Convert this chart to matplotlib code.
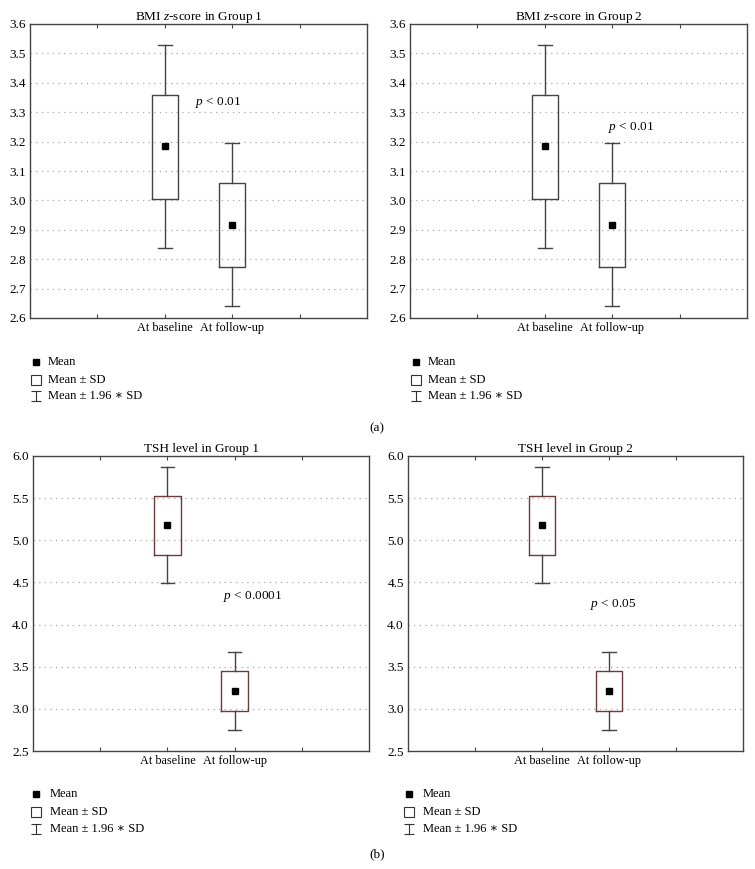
import matplotlib
matplotlib.use('Agg')
import matplotlib.pyplot as plt
from matplotlib.lines import Line2D
from matplotlib.path import Path

plt.rcParams['font.family'] = ['Liberation Serif', 'DejaVu Serif']
plt.rcParams['mathtext.fontset'] = 'custom'
plt.rcParams['mathtext.rm'] = 'Liberation Serif'
plt.rcParams['mathtext.it'] = 'Liberation Serif:italic'
plt.rcParams['font.size'] = 9.5

# ---- data ----
categories = ['At baseline', 'At follow-up']
cat_pos = [2, 3]

bmi_mean = [3.185, 2.917]
bmi_sd_lo = [3.005, 2.775]
bmi_sd_hi = [3.360, 3.060]
bmi_ci_lo = [2.838, 2.640]
bmi_ci_hi = [3.530, 3.195]

tsh_mean = [5.18, 3.21]
tsh_sd_lo = [4.83, 2.98]
tsh_sd_hi = [5.53, 3.45]
tsh_ci_lo = [4.49, 2.75]
tsh_ci_hi = [5.87, 3.68]

bmi_ticks = [2.6, 2.7, 2.8, 2.9, 3.0, 3.1, 3.2, 3.3, 3.4, 3.5, 3.6]
tsh_ticks = [2.5, 3.0, 3.5, 4.0, 4.5, 5.0, 5.5, 6.0]

W, H = 755, 869
fig = plt.figure(figsize=(W / 100, H / 100), dpi=100)
FS = 9.5


def px_axes(l, t, r, b):
  return fig.add_axes([l / W, 1 - b / H, (r - l) / W, (b - t) / H])


def draw_panel(ax, title, mean, lo, hi, clo, chi, yticks, boxcolor, ptext, pxy):
  stats = []
  for m, q1, q3, wl, wh in zip(mean, lo, hi, clo, chi):
    stats.append({'med': m, 'q1': q1, 'q3': q3, 'whislo': wl, 'whishi': wh, 'mean': m, 'fliers': []})
  ax.bxp(stats, positions=cat_pos, widths=0.39, showmeans=True, showfliers=False,
         boxprops=dict(color=boxcolor, linewidth=1.0),
         whiskerprops=dict(color='#444444', linewidth=1.0),
         capprops=dict(color='#444444', linewidth=1.0),
         capwidths=0.2,
         medianprops=dict(linewidth=0),
         meanprops=dict(marker='s', markerfacecolor='black', markeredgecolor='black', markersize=4.2))
  ax.set_xlim(0, 5)
  ax.set_ylim(yticks[0], yticks[-1])
  ax.set_yticks(yticks)
  ax.set_yticklabels(['%.1f' % v for v in yticks])
  ax.set_xticks([1, 2, 3, 4])
  ax.set_xticklabels([''] + categories + [''])
  ax.tick_params(axis='x', direction='in', length=3, top=True, color='#444444', pad=3, labelsize=8.8)
  ax.tick_params(axis='y', length=0, pad=3, labelsize=FS)
  for yv in yticks[1:-1]:
    ax.axhline(yv, color='#a8a8a8', linewidth=0.9, linestyle=(0, (1, 3.5)), zorder=0)
  for s in ax.spines.values():
    s.set_color('#444444')
    s.set_linewidth(1.0)
  ax.set_title(title, fontsize=FS, pad=3)
  ax.text(pxy[0], pxy[1], ptext, fontsize=FS)


# I-beam marker for the legend
ibeam = Path([(-1, 1), (1, 1), (0, 1), (0, -1), (-1, -1), (1, -1)],
             [Path.MOVETO, Path.LINETO, Path.MOVETO, Path.LINETO, Path.MOVETO, Path.LINETO])


def draw_legend(x_mark, x_text, ys):
  labels = ['Mean', 'Mean \u00b1 SD', 'Mean \u00b1 1.96 \u2217 SD']
  styles = [dict(marker='s', markerfacecolor='black', markeredgecolor='black', markersize=4),
            dict(marker='s', markerfacecolor='white', markeredgecolor='#333333', markersize=7, markeredgewidth=0.8),
            dict(marker=ibeam, markerfacecolor='none', markeredgecolor='#333333', markersize=7, markeredgewidth=0.8)]
  for lab, st, y in zip(labels, styles, ys):
    fig.add_artist(Line2D([x_mark / W], [1 - y / H], transform=fig.transFigure, linestyle='none', **st))
    fig.text(x_text / W, 1 - y / H, lab, va='center', ha='left', fontsize=9)


ax1 = px_axes(30, 24, 367, 318)
draw_panel(ax1, 'BMI $z$-score in Group 1', bmi_mean, bmi_sd_lo, bmi_sd_hi, bmi_ci_lo, bmi_ci_hi,
           bmi_ticks, '#444444', '$p$ < 0.01', (2.45, 3.325))
ax2 = px_axes(410, 24, 747, 318)
draw_panel(ax2, 'BMI $z$-score in Group 2', bmi_mean, bmi_sd_lo, bmi_sd_hi, bmi_ci_lo, bmi_ci_hi,
           bmi_ticks, '#444444', '$p$ < 0.01', (2.94, 3.24))
ax3 = px_axes(33, 456, 369, 751)
draw_panel(ax3, 'TSH level in Group 1', tsh_mean, tsh_sd_lo, tsh_sd_hi, tsh_ci_lo, tsh_ci_hi,
           tsh_ticks, '#6b3a3a', '$p$ < 0.0001', (2.83, 4.30))
ax4 = px_axes(408, 456, 743, 751)
draw_panel(ax4, 'TSH level in Group 2', tsh_mean, tsh_sd_lo, tsh_sd_hi, tsh_ci_lo, tsh_ci_hi,
           tsh_ticks, '#6b3a3a', '$p$ < 0.05', (2.72, 4.21))

draw_legend(36, 48, [362, 380, 396])
draw_legend(416, 428, [362, 380, 396])
draw_legend(36, 50, [794, 812, 829])
draw_legend(409, 423, [794, 812, 829])

fig.text(377 / W, 1 - 428 / H, '(a)', ha='center', va='center', fontsize=FS)
fig.text(377 / W, 1 - 854 / H, '(b)', ha='center', va='center', fontsize=FS)

fig.savefig('out.png', dpi=100)
